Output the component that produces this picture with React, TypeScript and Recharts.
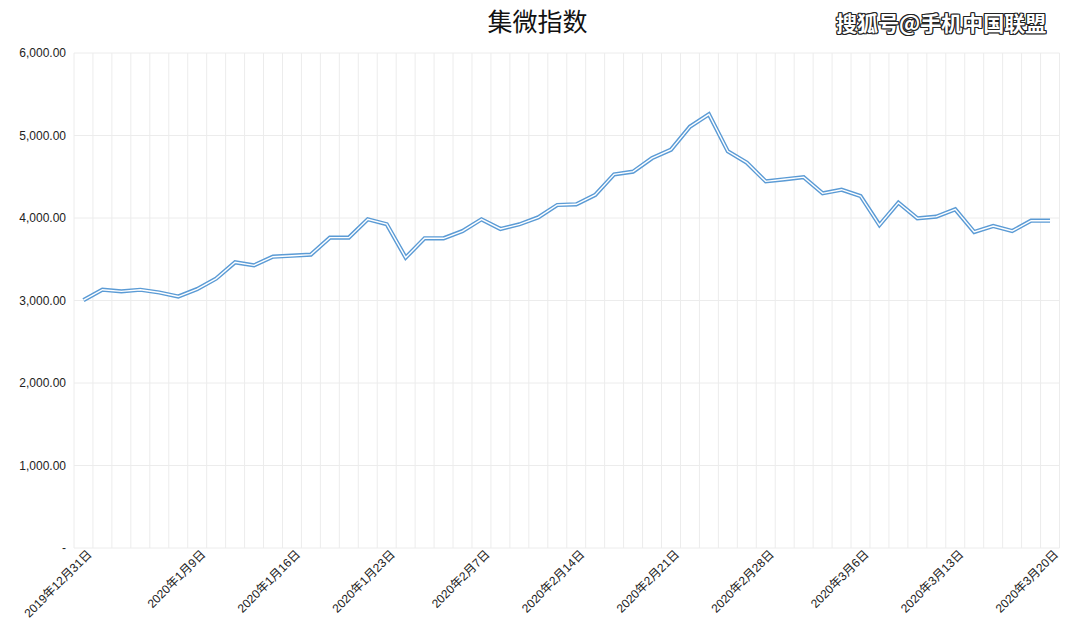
import React from 'react';
import { LineChart, Line, XAxis, YAxis, CartesianGrid } from 'recharts';

// 交易日
const dates = [
  '2019年12月31日', '2020年1月2日', '2020年1月3日', '2020年1月6日', '2020年1月7日', '2020年1月8日',
  '2020年1月9日', '2020年1月10日', '2020年1月13日', '2020年1月14日', '2020年1月15日', '2020年1月16日',
  '2020年1月17日', '2020年1月20日', '2020年1月21日', '2020年1月22日', '2020年1月23日', '2020年2月3日',
  '2020年2月4日', '2020年2月5日', '2020年2月6日', '2020年2月7日', '2020年2月10日', '2020年2月11日',
  '2020年2月12日', '2020年2月13日', '2020年2月14日', '2020年2月17日', '2020年2月18日', '2020年2月19日',
  '2020年2月20日', '2020年2月21日', '2020年2月24日', '2020年2月25日', '2020年2月26日', '2020年2月27日',
  '2020年2月28日', '2020年3月2日', '2020年3月3日', '2020年3月4日', '2020年3月5日', '2020年3月6日',
  '2020年3月9日', '2020年3月10日', '2020年3月11日', '2020年3月12日', '2020年3月13日', '2020年3月16日',
  '2020年3月17日', '2020年3月18日', '2020年3月19日', '2020年3月20日',
];

// 集微指数 收盘值
const indexValues = [
  3005, 3131, 3111, 3130, 3097, 3048,
  3139, 3265, 3463, 3426, 3531, 3543,
  3556, 3762, 3762, 3984, 3925, 3520,
  3754, 3754, 3842, 3984, 3867, 3923,
  4008, 4158, 4166, 4279, 4529, 4562,
  4725, 4828, 5107, 5257, 4808, 4671,
  4444, 4469, 4495, 4299, 4343, 4267,
  3915, 4186, 3996, 4016, 4105, 3830,
  3903, 3842, 3967, 3967,
];

// x 轴显示的日期
const labelDates = [
  '2019年12月31日', '2020年1月9日', '2020年1月16日', '2020年1月23日', '2020年2月7日', '2020年2月14日',
  '2020年2月21日', '2020年2月28日', '2020年3月6日', '2020年3月13日', '2020年3月20日',
];

const yTicks = [0, 1000, 2000, 3000, 4000, 5000, 6000];

const data = dates.map((date, idx) => ({ idx, date, value: indexValues[idx] }));
const xTicks = labelDates.map((d) => dates.indexOf(d));

const FONT = '"Liberation Sans", Arial, "Noto Sans CJK SC", sans-serif';

const formatY = (v: number) =>
  v === 0 ? '-' : v.toLocaleString('en-US', { minimumFractionDigits: 2, maximumFractionDigits: 2 });

const XTick = (props: any) => {
  const { x, y, payload } = props;
  const ax = x + 6;
  const ay = y;
  return (
    <text
      x={ax}
      y={ay}
      dy="0.35em"
      transform={`rotate(-45 ${ax} ${ay})`}
      textAnchor="end"
      fontSize={12}
      fontFamily={FONT}
      fill="#222"
    >
      {dates[payload.value]}
    </text>
  );
};

// 竖向网格线放在类别之间
const boundaryLines = ({ offset }: any) => {
  const n = dates.length;
  return Array.from({ length: n + 1 }, (_, i) => offset.left + (offset.width * i) / n);
};

export default function App() {
  return (
    <div style={{ position: 'relative', width: 1066, height: 634, background: '#fff' }}>
      <LineChart
        width={1066}
        height={634}
        data={data}
        margin={{ top: 45, right: 14.5, left: 6, bottom: 4 }}
      >
        <CartesianGrid stroke="#ececec" verticalCoordinatesGenerator={boundaryLines} />
        <XAxis
          dataKey="idx"
          type="number"
          domain={[-0.5, dates.length - 0.5]}
          ticks={xTicks}
          interval={0}
          tick={<XTick />}
          tickLine={false}
          axisLine={false}
          tickSize={0}
          tickMargin={4}
          height={90}
        />
        <YAxis
          domain={[0, 6000]}
          ticks={yTicks}
          tickFormatter={formatY}
          tickLine={false}
          axisLine={false}
          tickSize={6}
          tickMargin={2}
          width={60}
          tick={{ fontSize: 12, fill: '#222', fontFamily: FONT }}
        />
        <Line
          type="linear"
          dataKey="value"
          stroke="#5b9bd5"
          strokeWidth={4.2}
          dot={false}
          activeDot={false}
          isAnimationActive={false}
        />
        <Line
          type="linear"
          dataKey="value"
          stroke="#ffffff"
          strokeWidth={1.4}
          dot={false}
          activeDot={false}
          isAnimationActive={false}
        />
      </LineChart>
      <div
        style={{
          position: 'absolute',
          top: 0,
          left: 0,
          width: 1059,
          textAlign: 'center',
          fontFamily: '"Noto Sans CJK SC", sans-serif',
          fontSize: 25,
          lineHeight: '25px',
          color: '#111',
        }}
      >
        集微指数
      </div>
      <div
        style={{
          position: 'absolute',
          top: 3,
          left: 828,
          whiteSpace: 'nowrap',
          fontFamily: '"Noto Sans CJK SC", sans-serif',
          fontSize: 21,
          lineHeight: '22px',
          fontWeight: 700,
          color: '#fff',
          textShadow:
            '1px 0 #222, -1px 0 #222, 0 1px #222, 0 -1px #222, 1px 1px #222, -1px -1px #222, 1px -1px #222, -1px 1px #222',
        }}
      >
        搜狐号@手机中国联盟
      </div>
    </div>
  );
}
